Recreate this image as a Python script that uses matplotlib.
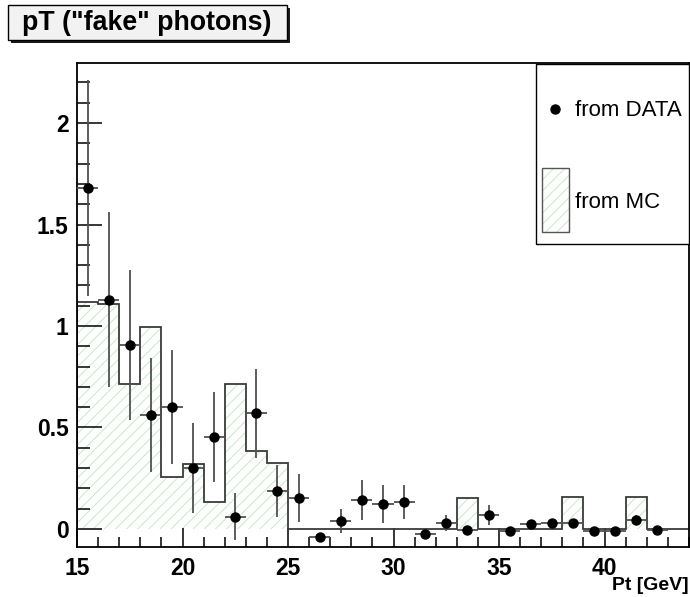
import numpy as np
import matplotlib
matplotlib.use("Agg")
import matplotlib.pyplot as plt
from matplotlib.patches import Rectangle
from matplotlib.ticker import MultipleLocator

# Bin edges of the pT histogram [GeV]
bin_edges = list(range(15, 45))

# Monte-Carlo prediction per 1 GeV bin
mc_values = [1.12, 1.11, 0.715, 0.995, 0.257, 0.32, 0.133, 0.715, 0.385, 0.325,
             0, 0, 0, 0, 0, 0, 0, 0,
             0.153,
             0, 0, 0, 0,
             0.158,
             0, 0,
             0.158,
             0, 0]

# Data points (bin centres, values, statistical errors)
data_x = [15.5, 16.5, 17.5, 18.5, 19.5, 20.5, 21.5, 22.5, 23.5, 24.5,
          25.5, 26.5, 27.5, 28.5, 29.5, 30.5, 31.5, 32.5, 33.5, 34.5,
          35.5, 36.5, 37.5, 38.5, 39.5, 40.5, 41.5, 42.5]
data_y = [1.68, 1.13, 0.906, 0.56, 0.60, 0.30, 0.453, 0.06, 0.57, 0.187,
          0.153, -0.04, 0.04, 0.143, 0.123, 0.133, -0.025, 0.03, -0.005, 0.07,
          -0.01, 0.025, 0.03, 0.03, -0.01, -0.01, 0.045, -0.005]
data_err = [0.53, 0.43, 0.37, 0.28, 0.28, 0.22, 0.22, 0.115, 0.22, 0.13,
            0.12, 0.01, 0.06, 0.10, 0.095, 0.085, 0.01, 0.04, 0.01, 0.05,
            0.01, 0.02, 0.02, 0.02, 0.01, 0.01, 0.025, 0.01]

title_text = 'pT ("fake" photons)'
x_label = "Pt [GeV]"
legend_data = "from DATA"
legend_mc = "from MC"

HATCH_GREEN = "#bfe5bf"
LINE_GREY = "#3a3a3a"
ERR_GREY = "#505050"

plt.rcParams["font.family"] = ["Liberation Sans", "DejaVu Sans"]
plt.rcParams["hatch.linewidth"] = 0.6

W, H = 690, 597
fig = plt.figure(figsize=(W / 100, H / 100), dpi=100)


def fx(px):
    return px / W


def fy(py):
    return 1 - py / H


ax = fig.add_axes([fx(77), fy(547), fx(689) - fx(77), fy(63) - fy(547)])

# MC histogram: hatched fill plus outline
ax.stairs(mc_values, bin_edges, baseline=0, fill=True, facecolor="none",
          edgecolor=HATCH_GREEN, hatch="///", linewidth=0, zorder=1)
ax.stairs(mc_values, bin_edges, baseline=0, color=LINE_GREY, linewidth=1.3,
          zorder=2)

# Data points with errors
ax.errorbar(data_x, data_y, yerr=data_err, xerr=0.5, fmt="o", color="black",
            markersize=6.5, ecolor=ERR_GREY, elinewidth=1.3, capsize=0,
            zorder=3)

ax.set_xlim(15, 44)
ax.set_ylim(-0.089, 2.296)

ax.xaxis.set_major_locator(MultipleLocator(5))
ax.xaxis.set_minor_locator(MultipleLocator(1))
ax.yaxis.set_major_locator(MultipleLocator(0.5))
ax.yaxis.set_minor_locator(MultipleLocator(0.1))
ax.yaxis.set_major_formatter(plt.FuncFormatter(lambda v, p: f"{v:g}"))

ax.tick_params(axis="both", which="both", direction="in", top=False,
               right=False, color="black", width=1.1)
ax.tick_params(axis="x", which="major", length=14, pad=7, labelsize=16.5)
ax.tick_params(axis="x", which="minor", length=7)
ax.tick_params(axis="y", which="major", length=18, pad=6, labelsize=16.5)
ax.tick_params(axis="y", which="minor", length=9)
for lab in ax.get_xticklabels() + ax.get_yticklabels():
    lab.set_fontweight("bold")
for sp in ax.spines.values():
    sp.set_linewidth(1.3)
    sp.set_color("black")

fig.text(fx(689), fy(585), x_label, ha="right", va="center",
         fontsize=14, fontweight="bold")

# Title box with drop shadow
fig.patches.append(Rectangle((fx(11), fy(43)), fx(290) - fx(11), fy(8) - fy(43),
                             transform=fig.transFigure, facecolor="#1a1a1a",
                             edgecolor="none", zorder=0))
fig.patches.append(Rectangle((fx(8), fy(40)), fx(287) - fx(8), fy(5) - fy(40),
                             transform=fig.transFigure, facecolor="#f2f2f2",
                             edgecolor="black", linewidth=1.0, zorder=1))
fig.text(fx(22), fy(23), title_text, ha="left", va="center", fontsize=19.3,
         fontweight="bold")

# Legend box
fig.patches.append(Rectangle((fx(536), fy(244)), fx(689) - fx(536),
                             fy(64) - fy(244), transform=fig.transFigure,
                             facecolor="white", edgecolor="black",
                             linewidth=1.0, zorder=5))
fig.lines.append(plt.Line2D([fx(555)], [fy(109)], marker="o", color="black",
                            markersize=6.5, transform=fig.transFigure,
                            zorder=6))
fig.text(fx(575), fy(111), legend_data, ha="left", va="center", fontsize=16,
         zorder=6)
fig.patches.append(Rectangle((fx(542), fy(232)), fx(569) - fx(542),
                             fy(168) - fy(232), transform=fig.transFigure,
                             facecolor="white", edgecolor=HATCH_GREEN,
                             hatch="///", linewidth=0, zorder=6))
fig.patches.append(Rectangle((fx(542), fy(232)), fx(569) - fx(542),
                             fy(168) - fy(232), transform=fig.transFigure,
                             facecolor="none", edgecolor="#555555",
                             linewidth=1.0, zorder=7))
fig.text(fx(575), fy(202), legend_mc, ha="left", va="center", fontsize=16,
         zorder=6)

fig.savefig("out.png", dpi=100)
